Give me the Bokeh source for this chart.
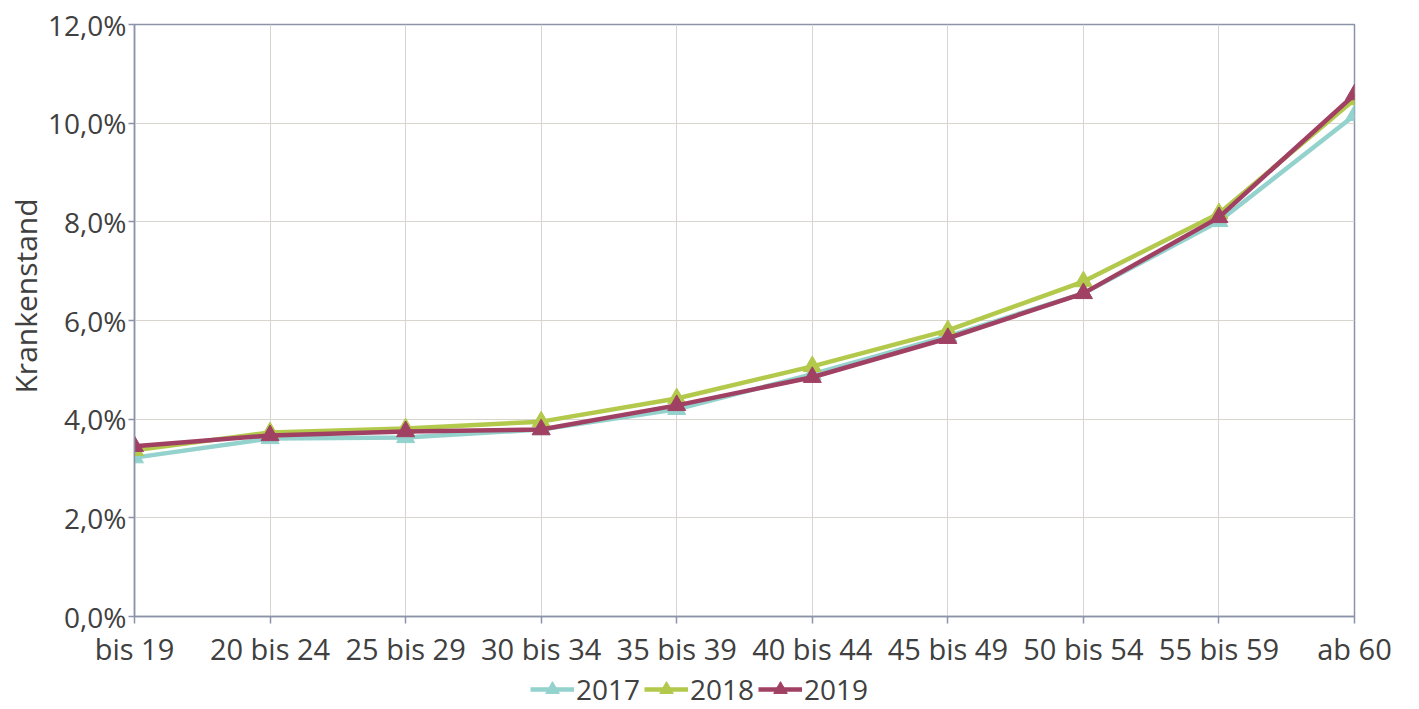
from bokeh.plotting import figure
from bokeh.embed import file_html
from bokeh.resources import INLINE
from bokeh.layouts import column
from bokeh.models import Range1d, FixedTicker, Legend, LegendItem, ColumnDataSource, Title

categories = ["bis 19", "20 bis 24", "25 bis 29", "30 bis 34", "35 bis 39",
              "40 bis 44", "45 bis 49", "50 bis 54", "55 bis 59", "ab 60"]
v2017 = [3.22, 3.61, 3.63, 3.79, 4.20, 4.91, 5.68, 6.55, 8.01, 10.16]
v2018 = [3.37, 3.73, 3.81, 3.95, 4.42, 5.07, 5.80, 6.79, 8.17, 10.48]
v2019 = [3.45, 3.67, 3.75, 3.79, 4.28, 4.85, 5.64, 6.55, 8.09, 10.58]
y_ticks = [0, 2, 4, 6, 8, 10, 12]
y_tick_labels = ["0,0%", "2,0%", "4,0%", "6,0%", "8,0%", "10,0%", "12,0%"]

series = [("2017", v2017, "#93d2cd"), ("2018", v2018, "#b2c94b"), ("2019", v2019, "#a04063")]

FONT = "Open Sans"
TXT = "#404040"
AX = "#8a93a8"

p = figure(width=1419, height=670, output_backend="svg", toolbar_location=None,
           x_range=Range1d(0, len(categories) - 1), y_range=Range1d(0, 12),
           min_border_left=134, min_border_top=24, min_border_right=65, min_border_bottom=20)

xs = list(range(len(categories)))
for name, vals, col in series:
    src = ColumnDataSource(dict(x=xs, y=vals))
    p.line("x", "y", source=src, line_color=col, line_width=4.5)
    p.scatter("x", "y", source=src, marker="triangle", size=18, fill_color=col, line_color=col)

p.xaxis.ticker = FixedTicker(ticks=xs)
p.xaxis.major_label_overrides = {i: c for i, c in enumerate(categories)}
p.yaxis.ticker = FixedTicker(ticks=y_ticks)
p.yaxis.major_label_overrides = {t: l for t, l in zip(y_ticks, y_tick_labels)}

for ax in (p.xaxis, p.yaxis):
    ax.axis_line_color = AX
    ax.axis_line_width = 1.5
    ax.major_tick_line_color = AX
    ax.major_tick_line_width = 1.5
    ax.major_tick_in = 0
    ax.major_tick_out = 7
    ax.minor_tick_line_color = None
    ax.major_label_text_font = FONT
    ax.major_label_text_color = TXT

p.xaxis.major_label_text_font_size = "29px"
p.yaxis.major_label_text_font_size = "28px"
p.yaxis.major_tick_out = 6
p.xaxis.major_label_standoff = 5
p.yaxis.major_label_standoff = 2

ytitle = Title(text="Krankenstand", align="left", offset=223,
               text_font=FONT, text_font_size="30px", text_font_style="normal",
               text_color=TXT, standoff=0)
p.add_layout(ytitle, "left")

p.xgrid.grid_line_color = "#d8d5cf"
p.ygrid.grid_line_color = "#d8d5cf"
p.xgrid.grid_line_width = 1
p.ygrid.grid_line_width = 1
p.outline_line_color = AX
p.outline_line_width = 1.5
p.background_fill_color = "white"
p.border_fill_color = "white"

# legend strip below the chart (its sample glyphs sit outside the strip's visible range)
lf = figure(width=1419, height=39, output_backend="svg", toolbar_location=None,
            x_range=Range1d(0, 1), y_range=Range1d(0, 1),
            min_border_left=0, min_border_right=0, min_border_top=0, min_border_bottom=0)
lf.axis.visible = False
lf.grid.visible = False
lf.outline_line_color = None
items = []
for name, vals, col in series:
    hidden = ColumnDataSource(dict(x=[-10, -9], y=[-10, -10]))
    r1 = lf.line("x", "y", source=hidden, line_color=col, line_width=4.5)
    r2 = lf.scatter("x", "y", source=hidden, marker="triangle", size=18, fill_color=col, line_color=col)
    items.append(LegendItem(label=name, renderers=[r1, r2]))
legend = Legend(items=items, orientation="horizontal", location=(396, 1),
                label_text_font=FONT, label_text_font_size="28px", label_text_color=TXT,
                glyph_width=44, glyph_height=34, label_standoff=2, spacing=4,
                border_line_color=None, background_fill_alpha=0, padding=0, margin=0)
lf.add_layout(legend, "center")

layout = column(p, lf, spacing=0)
open("out.html", "w").write(file_html(layout, INLINE))
